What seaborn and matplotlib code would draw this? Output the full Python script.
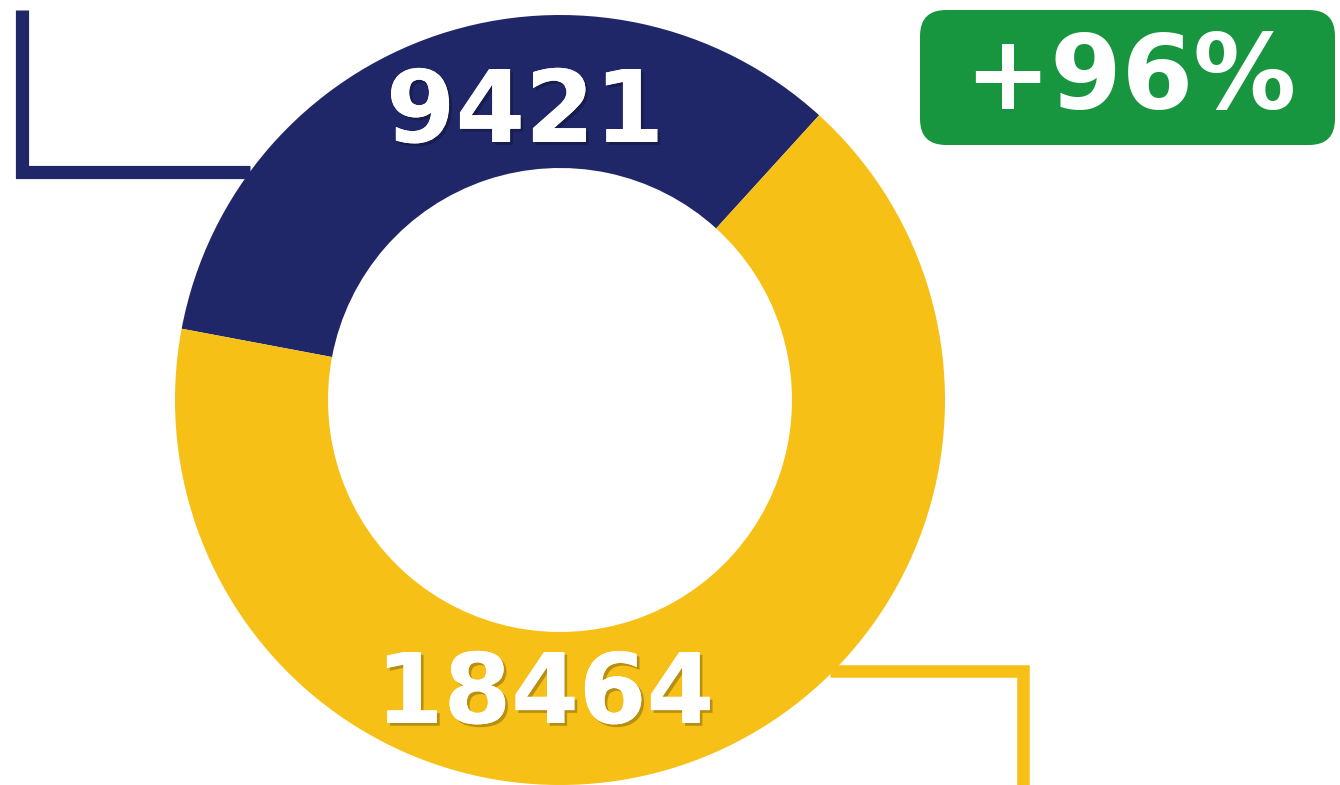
import numpy as np
import matplotlib
matplotlib.use("Agg")
import matplotlib.pyplot as plt
import matplotlib.patheffects as pe
from matplotlib.patches import FancyBboxPatch
import seaborn as sns

labels = ['9421', '18464']
values = [9421, 18464]
change_label = '+96%'

colors = ['#1f2768', '#f6c017']
green = '#18963f'

sns.set_theme(style='white')
plt.rcParams['font.family'] = ['DejaVu Sans']

W, H = 1340, 785
fig = plt.figure(figsize=(W / 100, H / 100), dpi=100)
ax = fig.add_axes([0, 0, 1, 1])

cx, cy, r = 560, H - 400, 385
ring = 153

# navy slice starts up at the top right and runs anticlockwise
start = 47.7
wedges, _ = ax.pie(values, colors=colors, startangle=start, counterclock=True,
                   center=(cx, cy), radius=r, frame=True,
                   wedgeprops=dict(width=ring, edgecolor='none'))
ax.set_xlim(0, W)
ax.set_ylim(0, H)
ax.set_aspect('equal')
ax.axis('off')

# labels sit in the ring, at top and bottom
shadow = [pe.withSimplePatchShadow(offset=(2, -2), shadow_rgbFace='black', alpha=0.25), pe.Normal()]
mid_r = r - ring / 2
ax.text(cx - 35, cy + mid_r - 23, labels[0], color='white', fontsize=72, fontweight='bold',
        ha='center', va='center', path_effects=shadow)
ax.text(cx - 15, cy - mid_r + 12, labels[1], color='white', fontsize=70, fontweight='bold',
        ha='center', va='center', path_effects=shadow)

# leader lines
ax.plot([22, 22, 250], [H - 10, H - 172, H - 172], color=colors[0], lw=9.5,
        solid_capstyle='butt', solid_joinstyle='miter', zorder=0)
ax.plot([830, 1023, 1023], [H - 671, H - 671, 0], color=colors[1], lw=9,
        solid_capstyle='butt', solid_joinstyle='miter', zorder=0)

# growth badge
badge = FancyBboxPatch((920, H - 145), 415, 135, boxstyle='round,pad=0,rounding_size=26',
                       facecolor=green, edgecolor='none')
ax.add_patch(badge)
ax.text(1130, H - 80, change_label, color='white', fontsize=74, fontweight='bold',
        ha='center', va='center')

fig.savefig('out.png', dpi=100)
